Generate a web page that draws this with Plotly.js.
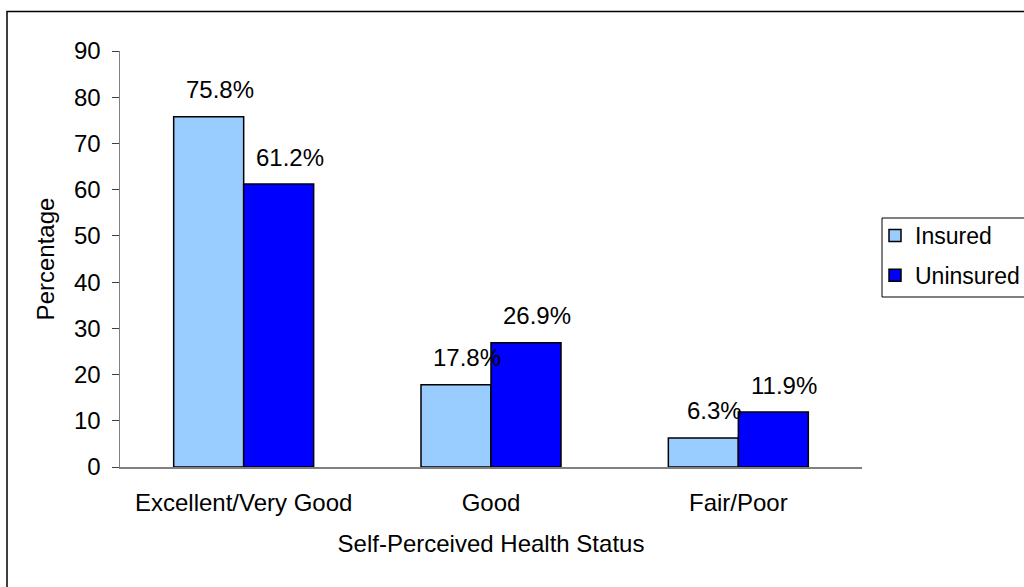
<!DOCTYPE html>
<html>
<head>
<meta charset="utf-8">
<script src="https://cdn.plot.ly/plotly-3.0.1.min.js"></script>
<style>
  html, body { margin: 0; padding: 0; background: #fff; }
  #chart { width: 1024px; height: 587px; }
</style>
</head>
<body>
<div id="chart"></div>
<script>
// ---- data ----
const categories = ["Excellent/Very Good", "Good", "Fair/Poor"];
const seriesNames = ["Insured", "Uninsured"];
const insured = [75.8, 17.8, 6.3];
const uninsured = [61.2, 26.9, 11.9];
const yTickValues = [0, 10, 20, 30, 40, 50, 60, 70, 80, 90];
const xTitle = "Self-Perceived Health Status";
const yTitle = "Percentage";

// ---- layout constants ----
const W = 1024, H = 587;
const M = { l: 120, r: 162, t: 51, b: 120, autoexpand: false };
const plotW = W - M.l - M.r, plotH = H - M.t - M.b;
const px2x = p => (p - M.l) / plotW;
const py2y = p => (H - M.b - p) / plotH;
const FONT = '"Liberation Sans", Arial, Helvetica, sans-serif';
const FS = 24;

const colors = ["#99CCFF", "#0000FF"];
const values = [insured, uninsured];

const traces = values.map((vals, i) => ({
  type: 'bar',
  name: seriesNames[i],
  x: categories,
  y: vals,
  legendgroup: 'g' + i,
  marker: { color: colors[i], line: { color: '#000', width: 1.5 } },
  hoverinfo: 'x+y+name'
}));

// data labels above bars, offset like the original
const barHalf = 35;
const annotations = [];
values.forEach((vals, i) => {
  vals.forEach((v, j) => {
    annotations.push({
      x: categories[j], y: v, xref: 'x', yref: 'y',
      text: v.toFixed(1) + '%',
      showarrow: false,
      xanchor: 'center', yanchor: 'middle',
      xshift: (i === 0 ? -barHalf : barHalf) + 11,
      yshift: 27,
      font: { family: FONT, size: FS, color: '#000' }
    });
  });
});

const shapes = [
  // outer chart frame
  { type: 'rect', xref: 'paper', yref: 'paper',
    x0: px2x(7), x1: px2x(1040), y0: py2y(600), y1: py2y(11.5),
    line: { color: '#000', width: 1.5 }, fillcolor: 'rgba(0,0,0,0)', layer: 'below' },
  // legend frame
  { type: 'rect', xref: 'paper', yref: 'paper',
    x0: px2x(882), x1: px2x(1040), y0: py2y(297), y1: py2y(218),
    line: { color: '#000', width: 1 }, fillcolor: 'rgba(0,0,0,0)' }
];

const layout = {
  width: W, height: H,
  margin: M,
  paper_bgcolor: '#fff',
  plot_bgcolor: '#fff',
  font: { family: FONT, size: FS, color: '#000' },
  barmode: 'group',
  bargap: 0.434,
  bargroupgap: 0,
  showlegend: true,
  legend: {
    x: px2x(875), y: py2y(214), xanchor: 'left', yanchor: 'top',
    bgcolor: 'rgba(0,0,0,0)', borderwidth: 0,
    font: { family: FONT, size: 23, color: '#000' },
    tracegroupgap: 7,
    traceorder: 'grouped'
  },
  xaxis: {
    type: 'category',
    showgrid: false, zeroline: false,
    showline: true, linecolor: '#808080', linewidth: 1.5,
    ticks: '',
    ticklabelstandoff: 14,
    tickfont: { family: FONT, size: FS, color: '#000' },
    title: { text: xTitle, font: { family: FONT, size: FS, color: '#000' }, standoff: 20 },
    fixedrange: true
  },
  yaxis: {
    range: [0, 90],
    tickvals: yTickValues,
    ticktext: yTickValues.map(String),
    showgrid: false, zeroline: false,
    showline: true, linecolor: '#808080', linewidth: 1.5,
    ticks: 'outside', ticklen: 7, tickcolor: '#404040', tickwidth: 1,
    ticklabelstandoff: 6,
    tickfont: { family: FONT, size: FS, color: '#000' },
    title: { text: yTitle, font: { family: FONT, size: FS, color: '#000' }, standoff: 12 },
    fixedrange: true
  },
  annotations: annotations,
  shapes: shapes
};

Plotly.newPlot('chart', traces, layout, { displayModeBar: false, staticPlot: true });
</script>
</body>
</html>
